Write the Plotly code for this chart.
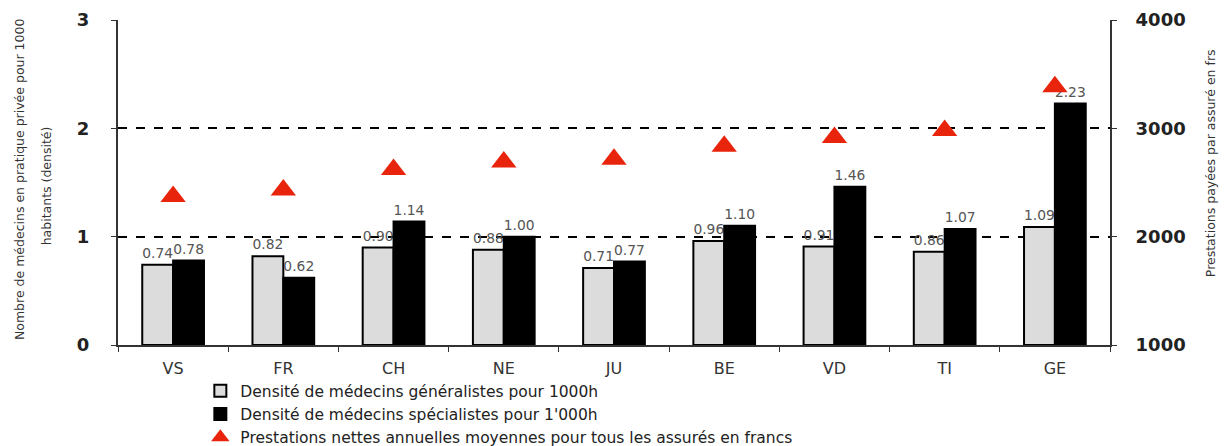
import plotly.graph_objects as go

# Data
cantons = ['VS', 'FR', 'CH', 'NE', 'JU', 'BE', 'VD', 'TI', 'GE']
generalistes = [0.74, 0.82, 0.90, 0.88, 0.71, 0.96, 0.91, 0.86, 1.09]
specialistes = [0.78, 0.62, 1.14, 1.00, 0.77, 1.10, 1.46, 1.07, 2.23]
prestations = [2370, 2430, 2620, 2690, 2715, 2835, 2915, 2980, 3385]

FONT = 'DejaVu Sans, Verdana, sans-serif'

fig = go.Figure()

fig.add_trace(go.Bar(
    x=cantons, y=generalistes,
    name='Densité de médecins généralistes pour 1000h',
    marker=dict(color='#dcdcdc', line=dict(color='black', width=2)),
    text=[f'{v:.2f}' for v in generalistes], textposition='outside',
    textfont=dict(color='#555555', size=15), cliponaxis=False,
))
fig.add_trace(go.Bar(
    x=cantons, y=specialistes,
    name="Densité de médecins spécialistes pour 1'000h",
    marker=dict(color='black', line=dict(color='black', width=2)),
    text=[f'{v:.2f}' for v in specialistes], textposition='outside',
    textfont=dict(color='#555555', size=15), cliponaxis=False,
))
fig.add_trace(go.Scatter(
    x=cantons, y=prestations, yaxis='y2', mode='markers',
    name='Prestations nettes annuelles moyennes pour tous les assurés en francs',
    marker=dict(symbol='triangle-up', size=22, color='#e8250c'),
))

# the page body adds an 8px offset, so the figure is 8px smaller than the window
fig.update_layout(
    width=1220, height=438,
    margin=dict(l=110, r=118, t=12, b=101, autoexpand=False),
    paper_bgcolor='white', plot_bgcolor='white',
    font=dict(family=FONT, color='#222'),
    barmode='group', bargap=0.44, bargroupgap=0,
    showlegend=True,
    legend=dict(x=0.083, y=-0.09, xanchor='left', yanchor='top',
                font=dict(size=15.5, color='#222'), tracegroupgap=0,
                itemwidth=30, bgcolor='rgba(0,0,0,0)'),
    xaxis=dict(
        showline=True, linecolor='#333', linewidth=2,
        ticks='outside', tickson='boundaries', ticklen=5, tickcolor='#333',
        tickfont=dict(size=16, color='#333'), ticklabelstandoff=8,
        range=[-0.5, 8.5],
    ),
    yaxis=dict(
        range=[0, 3], tickvals=[0, 1, 2, 3],
        showline=True, linecolor='#333', linewidth=2,
        ticks='outside', ticklen=5, tickcolor='#333',
        tickfont=dict(size=18, color='#222', weight='bold'), ticklabelstandoff=18,
        showgrid=True, gridcolor='black', griddash='dash', gridwidth=1.5,
        zeroline=False,
    ),
    yaxis2=dict(
        range=[1000, 4000], tickvals=[1000, 2000, 3000, 4000],
        overlaying='y', side='right',
        showline=True, linecolor='#333', linewidth=2,
        ticks='outside', ticklen=5, tickcolor='#333',
        tickfont=dict(size=18, color='#222', weight='bold'), ticklabelstandoff=15,
        showgrid=False, zeroline=False,
    ),
)

# axis titles as rotated annotations (two separate lines on the left)
titles = [
    ('Nombre de médecins en pratique privée pour 1000', -0.100, 0.51),
    ('habitants (densité)', -0.072, 0.49),
    ('Prestations payées par assuré en frs', 1.102, 0.56),
]
for txt, xp, yp in titles:
    fig.add_annotation(text=txt, xref='paper', yref='paper', x=xp, y=yp,
                       xanchor='center', yanchor='middle',
                       textangle=-90, showarrow=False,
                       font=dict(size=12.5, color='#333'))

fig.write_html('out.html')
